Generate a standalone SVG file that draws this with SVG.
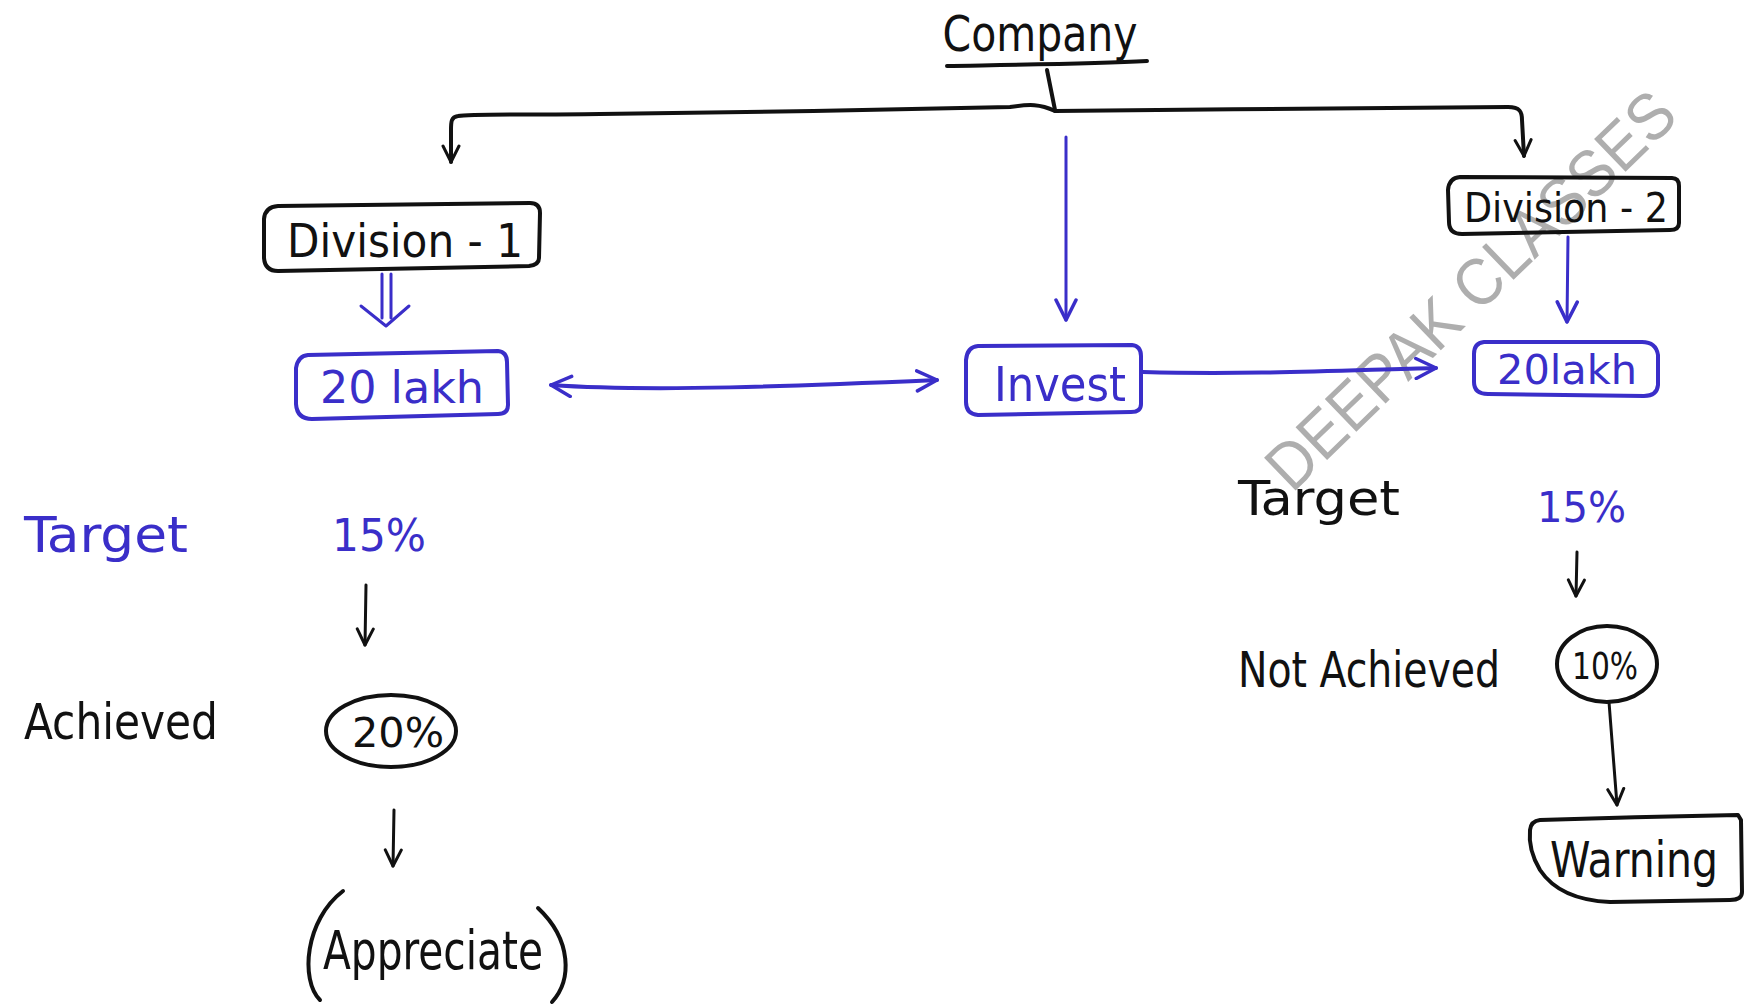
<svg xmlns="http://www.w3.org/2000/svg" width="1746" height="1005" viewBox="0 0 1746 1005">
  <style>
    .ink { fill: none; stroke: #111; stroke-width: 4; stroke-linecap: round; stroke-linejoin: round; }
    .blue { fill: none; stroke: #3a2ec9; stroke-width: 4; stroke-linecap: round; stroke-linejoin: round; }
    .thin { stroke-width: 3; }
    .lbl { font-family: "DejaVu Sans Condensed", "Liberation Sans", sans-serif; fill: #111; }
    .lblb { font-family: "DejaVu Sans Condensed", "Liberation Sans", sans-serif; fill: #3a2ec9; }
    .mark { font-family: "Liberation Sans", Arial, sans-serif; fill: #8c8c8c; fill-opacity: 0.7; }
  </style>
  <defs>
    <marker id="headK" viewBox="0 0 20 20" refX="18" refY="10" markerWidth="20" markerHeight="20" markerUnits="userSpaceOnUse" orient="auto-start-reverse">
      <path d="M2,2 L18,10 L2,18" fill="none" stroke="#111" stroke-width="3" stroke-linecap="round" stroke-linejoin="round"/>
    </marker>
    <marker id="headB" viewBox="0 0 24 24" refX="22" refY="12" markerWidth="24" markerHeight="24" markerUnits="userSpaceOnUse" orient="auto-start-reverse">
      <path d="M2,2 L22,12 L2,22" fill="none" stroke="#3a2ec9" stroke-width="3.5" stroke-linecap="round" stroke-linejoin="round"/>
    </marker>
  </defs>

  <rect width="1746" height="1005" fill="#fff"/>

  <!-- watermark -->
  <text class="mark" font-size="66" transform="translate(1292,494) rotate(-44)" textLength="540" lengthAdjust="spacingAndGlyphs">DEEPAK CLASSES</text>

  <!-- connectors -->
  <g id="connectors">
    <!-- company trunk and branch bar -->
    <path class="ink" d="M1047,70 L1055,110"/>
    <path class="ink" d="M1055,111 C1040,104 1030,104 1010,107 C900,110 700,113 600,114 C520,115 470,114 458,116 C451,117 451,122 451,130 L451,162" marker-end="url(#headK)"/>
    <path class="ink" d="M1055,111 C1200,110 1400,107 1508,107 C1520,107 1522,112 1522,120 L1524,156" marker-end="url(#headK)"/>
    <!-- company to invest -->
    <path class="blue thin" d="M1066,137 L1066,320" marker-end="url(#headB)"/>
    <!-- division 1 double arrow -->
    <path class="blue thin" d="M382,274 L382,318 M391,274 L391,318"/>
    <path class="blue thin" d="M361,306 L386,326 L409,306"/>
    <!-- division 2 to 20lakh -->
    <path class="blue thin" d="M1568,237 L1567,322" marker-end="url(#headB)"/>
    <!-- 20 lakh <-> invest -->
    <path class="blue" d="M551,385 C650,392 800,386 937,380" marker-start="url(#headB)" marker-end="url(#headB)"/>
    <!-- invest -> 20lakh -->
    <path class="blue" d="M1143,372 C1250,375 1350,370 1436,368" marker-end="url(#headB)"/>
    <!-- left flow -->
    <path class="ink thin" d="M366,585 L365,645" marker-end="url(#headK)"/>
    <path class="ink thin" d="M394,810 L393,866" marker-end="url(#headK)"/>
    <!-- right flow -->
    <path class="ink thin" d="M1577,552 L1576,596" marker-end="url(#headK)"/>
    <path class="ink thin" d="M1609,702 L1617,805" marker-end="url(#headK)"/>
  </g>

  <!-- Company -->
  <g id="company">
    <text class="lbl" x="1040" y="51" font-size="50" text-anchor="middle" textLength="195" lengthAdjust="spacingAndGlyphs">Company</text>
    <path class="ink" d="M947,66 C1000,65 1090,64 1147,61"/>
  </g>

  <!-- Division - 1 -->
  <g id="division1">
    <path class="ink" d="M278,206 L530,203 Q540,203 540,213 L539,258 Q539,265 529,266 L278,271 Q265,271 264,258 L264,219 Q265,207 278,206 Z"/>
    <text class="lbl" x="405" y="257" font-size="46" text-anchor="middle" textLength="236" lengthAdjust="spacingAndGlyphs">Division - 1</text>
  </g>

  <!-- Division - 2 -->
  <g id="division2">
    <path class="ink" d="M1460,177 L1672,178 Q1679,178 1679,186 L1679,223 Q1679,230 1670,230 L1462,234 Q1449,234 1449,222 L1448,190 Q1449,178 1460,177 Z"/>
    <text class="lbl" x="1566" y="222" font-size="40" text-anchor="middle" textLength="204" lengthAdjust="spacingAndGlyphs">Division - 2</text>
  </g>

  <!-- 20 lakh -->
  <g id="lakh-left">
    <path class="blue" d="M308,355 L498,351 Q507,352 507,362 L508,405 Q508,414 498,414 L312,419 Q297,419 296,404 L296,368 Q298,356 308,355 Z"/>
    <text class="lblb" x="402" y="403" font-size="44" text-anchor="middle" textLength="164" lengthAdjust="spacingAndGlyphs">20 lakh</text>
  </g>

  <!-- Invest -->
  <g id="invest">
    <path class="blue" d="M978,346 L1132,345 Q1141,346 1141,356 L1141,404 Q1141,412 1131,412 L978,415 Q966,414 966,402 L966,360 Q967,347 978,346 Z"/>
    <text class="lblb" x="1060" y="401" font-size="48" text-anchor="middle" textLength="132" lengthAdjust="spacingAndGlyphs">Invest</text>
  </g>

  <!-- 20lakh right -->
  <g id="lakh-right">
    <path class="blue" d="M1484,342 L1642,342 Q1656,342 1658,355 L1658,385 Q1657,396 1644,396 L1488,394 Q1474,394 1474,382 L1474,354 Q1474,343 1484,342 Z"/>
    <text class="lblb" x="1567" y="384" font-size="40" text-anchor="middle" textLength="140" lengthAdjust="spacingAndGlyphs">20lakh</text>
  </g>

  <!-- left block -->
  <g id="target-left">
    <text class="lblb" x="24" y="552" font-size="50" textLength="164" lengthAdjust="spacingAndGlyphs">Target</text>
  </g>
  <g id="pct15-left">
    <text class="lblb" x="332" y="551" font-size="44" textLength="94" lengthAdjust="spacingAndGlyphs">15%</text>
  </g>
  <g id="achieved">
    <text class="lbl" x="24" y="739" font-size="50" textLength="194" lengthAdjust="spacingAndGlyphs">Achieved</text>
  </g>
  <g id="pct20">
    <ellipse class="ink" cx="391" cy="731" rx="65" ry="36"/>
    <text class="lbl" x="398" y="747" font-size="40" text-anchor="middle" textLength="92" lengthAdjust="spacingAndGlyphs">20%</text>
  </g>
  <g id="appreciate">
    <path class="ink" d="M343,891 C305,920 300,980 320,1000"/>
    <path class="ink" d="M538,908 C572,940 572,980 552,1002"/>
    <text class="lbl" x="433" y="969" font-size="54" text-anchor="middle" textLength="220" lengthAdjust="spacingAndGlyphs">Appreciate</text>
  </g>

  <!-- right block -->
  <g id="target-right">
    <text class="lbl" x="1238" y="515" font-size="48" textLength="162" lengthAdjust="spacingAndGlyphs">Target</text>
  </g>
  <g id="pct15-right">
    <text class="lblb" x="1537" y="522" font-size="42" textLength="89" lengthAdjust="spacingAndGlyphs">15%</text>
  </g>
  <g id="not-achieved">
    <text class="lbl" x="1238" y="687" font-size="50" textLength="262" lengthAdjust="spacingAndGlyphs">Not Achieved</text>
  </g>
  <g id="pct10">
    <ellipse class="ink" cx="1607" cy="664" rx="50" ry="38"/>
    <text class="lbl" x="1605" y="679" font-size="38" text-anchor="middle" textLength="66" lengthAdjust="spacingAndGlyphs">10%</text>
  </g>
  <g id="warning">
    <path class="ink" d="M1540,820 C1600,818 1680,816 1738,815 L1741,820 L1742,892 Q1742,900 1730,900 L1610,902 Q1560,900 1540,870 Q1528,850 1530,830 Q1531,821 1540,820 Z"/>
    <text class="lbl" x="1634" y="877" font-size="50" text-anchor="middle" textLength="168" lengthAdjust="spacingAndGlyphs">Warning</text>
  </g>
</svg>
